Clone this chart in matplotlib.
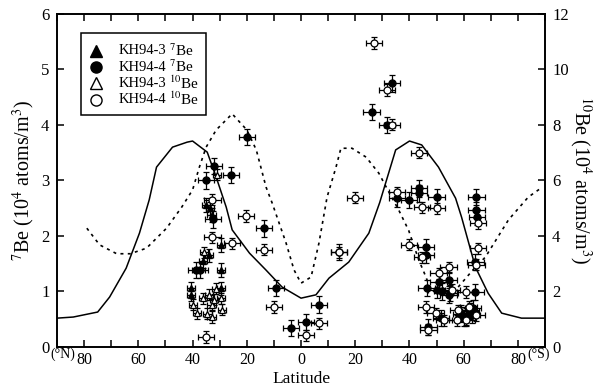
import numpy as np
import matplotlib.pyplot as plt
from matplotlib.ticker import MultipleLocator

plt.rcParams['font.family'] = ['Liberation Serif', 'DejaVu Serif']
plt.rcParams['mathtext.fontset'] = 'stix'

# ===== model curves (lat: N negative, S positive) =====
solid_lat = [-90, -84, -75, -70.6, -64.5, -59.6, -56, -53.3, -47.4, -42, -40, -34.6, -31.3,
             -27.6, -25.4, -19, -13, -7, 0, 5.5, 10.3, 17.6, 25, 29, 34.9, 40, 44.5, 50.7,
             57, 59.2, 64.3, 69, 74, 81.3, 90]
solid_val = [0.52, 0.54, 0.63, 0.9, 1.42, 2.05, 2.65, 3.24, 3.6, 3.69, 3.71, 3.51, 3.06,
             2.52, 2.11, 1.69, 1.39, 1.08, 0.88, 0.94, 1.24, 1.53, 2.05, 2.6, 3.55, 3.71, 3.64,
             3.24, 2.68, 2.34, 1.44, 0.97, 0.61, 0.52, 0.52]

dash_lat = [-79, -74.3, -68, -63, -57, -49.6, -44, -40, -37.5, -35, -31.3, -25.4, -20, -16.5,
            -12.9, -10.7, -5.5, -2.6, 0, 3.7, 6.6, 9.6, 12.9, 14.7, 18.8, 24, 28.7, 32.4, 36,
            39.7, 43.4, 46, 47.8, 52, 56, 59.2, 64.3, 68, 76.5, 83.8, 89]
dash_val = [2.14, 1.84, 1.68, 1.68, 1.78, 2.14, 2.52, 2.83, 3.24, 3.6, 3.91, 4.2, 3.91, 3.55,
            2.88, 2.6, 1.87, 1.39, 1.15, 1.26, 1.87, 2.7, 3.24, 3.58, 3.58, 3.42, 3.13, 2.79, 2.47,
            2.1, 1.57, 1.27, 1.03, 0.93, 0.97, 1.15, 1.44, 1.62, 2.29, 2.7, 2.88]

# ===== KH94-3 7Be (left axis) =====
k3_be7_lat = [-35, -33, -29.4, -29.4, -40.5, -40.5, -29.4, -34, -33.5, -36]
k3_be7_val = [2.56, 2.38, 1.84, 1.39, 1.06, 0.94, 1.06, 1.65, 2.5, 1.55]

# ===== KH94-4 7Be (left axis) =====
k4_be7_lat = [-35, -32, -25.7, -19.8, -13.6, -32.5, -38.6, -37.3, -9.2, -3.7, 1.8, 6.6, 14,
              26, 31.7, 33.5, 35.3, 39.7, 43.4, 43.4, 50, 64.7, 64.7, 65, 64.3, 46, 46,
              54.4, 46.3, 50.7, 50, 54.4, 64.3, 51.5, 47, 59, 61, 62.5, 63.5, 60, 63, 55, 52]
k4_be7_val = [3.0, 3.26, 3.1, 3.78, 2.14, 2.3, 1.39, 1.39, 1.06, 0.34, 0.45, 0.76, 1.71,
              4.23, 4.0, 4.75, 2.68, 2.65, 2.86, 2.77, 2.7, 2.7, 2.47, 2.34, 1.53, 1.8, 1.66,
              1.21, 1.06, 1.17, 1.03, 0.94, 0.99, 0.52, 0.36, 0.6, 0.55, 0.65, 0.7, 0.52, 0.58,
              0.97, 1.0]

# ===== KH94-3 10Be (right axis) =====
k3_be10_lat = [-35.7, -40, -38.5, -36, -34, -33, -33, -32, -29.4, -29, -34.5, -31.5, -31]
k3_be10_val = [3.42, 1.52, 1.22, 1.76, 1.88, 1.52, 1.08, 1.7, 1.76, 1.34, 1.2, 2.1, 6.2]

# ===== KH94-4 10Be (right axis) =====
k4_be10_lat = [-32.7, -20.2, -13.6, -32.7, -25.4, -35, -10, 6.6, 1.8, 14, 20, 26.8, 31.7,
               33.5, 43.4, 35.3, 44.5, 50, 65.4, 65.4, 64.7, 39.7, 44.5, 54.4, 50.7, 55.5,
               60.7, 46, 49.6, 52.6, 47, 58, 57.4, 61, 64.7, 61.8]
k4_be10_val = [5.3, 4.72, 3.5, 3.96, 3.74, 0.36, 1.44, 0.86, 0.43, 3.42, 5.37, 10.95, 9.26,
               8.0, 7.0, 5.58, 5.04, 5.0, 4.46, 3.56, 2.96, 3.68, 3.24, 2.88, 2.66, 2.06,
               1.98, 1.44, 1.22, 0.97, 0.62, 1.33, 0.97, 0.97, 1.15, 1.44]

fig = plt.figure(figsize=(5.97, 3.86), dpi=100)
ax = fig.add_axes([0.0955, 0.101, 0.8175, 0.863])
ax2 = ax.twinx()

ax.plot(solid_lat, solid_val, '-', color='black', lw=1.1)
ax.plot(dash_lat, dash_val, linestyle=(0, (1.8, 2.6)), color='black', lw=1.2)

eb = dict(ecolor='black', elinewidth=0.9, capsize=2, capthick=0.9, linestyle='none')
ax.errorbar(k3_be7_lat, k3_be7_val, xerr=1.5, yerr=0.12, fmt='^', ms=5,
            mfc='black', mec='black', **eb)
ax.errorbar(k4_be7_lat, k4_be7_val, xerr=3, yerr=0.15, fmt='o', ms=5,
            mfc='black', mec='black', **eb)
ax2.errorbar(k3_be10_lat, k3_be10_val, xerr=1.5, yerr=0.2, fmt='^', ms=5,
             mfc='white', mec='black', mew=0.9, **eb)
ax2.errorbar(k4_be10_lat, k4_be10_val, xerr=3, yerr=0.2, fmt='o', ms=5,
             mfc='white', mec='black', mew=0.9, **eb)

ax.set_xlim(-90, 90)
ax.set_ylim(0, 6)
ax2.set_ylim(0, 12)
ax.xaxis.set_minor_locator(MultipleLocator(10))
ax.set_xticks(np.arange(-80, 81, 20))
ax.set_xticklabels(['80', '60', '40', '20', '0', '20', '40', '60', '80'])
ax.yaxis.set_major_locator(MultipleLocator(1))
ax2.yaxis.set_major_locator(MultipleLocator(2))

for a in (ax, ax2):
    for s in a.spines.values():
        s.set_linewidth(1.2)
ax.tick_params(axis='both', which='both', direction='in', top=True, labelsize=12,
               length=5, width=1.1)
ax.tick_params(axis='x', labelsize=11.5)
ax.tick_params(axis='y', right=False, pad=5.5)
ax2.tick_params(axis='y', direction='in', labelsize=12, length=5, width=1.1, pad=5)

ax.set_xlabel('Latitude', fontsize=12.5, labelpad=2)
ax.set_ylabel('$^7$Be (10$^4$ atoms/m$^3$)', fontsize=14.5, labelpad=3)
ax2.set_ylabel('$^{10}$Be (10$^4$ atoms/m$^3$)', fontsize=14.5, rotation=270, labelpad=18)

fig.text(0.0845, 0.081, '(°N)', fontsize=10, ha='left', va='center')
fig.text(0.8827, 0.081, '(°S)', fontsize=10, ha='left', va='center')

# legend drawn by hand: marker, cruise name, isotope
lx, ly = 0.161, 0.868
rows = [('^', 'black', 'KH94-3', '$^{7}$Be'),
        ('o', 'black', 'KH94-4', '$^{7}$Be'),
        ('^', 'white', 'KH94-3', '$^{10}$Be'),
        ('o', 'white', 'KH94-4', '$^{10}$Be')]
for i, (m, fc, cruise, iso) in enumerate(rows):
    y = ly - i * 0.042
    fig.lines.append(plt.Line2D([lx], [y], marker=m, ms=8, mfc=fc, mec='black',
                                mew=1, linestyle='none', transform=fig.transFigure))
    fig.text(0.198, y, cruise, fontsize=10.5, ha='left', va='center')
    fig.text(0.283, y, iso, fontsize=11, ha='left', va='center')
box = plt.Rectangle((0.136, 0.702), 0.209, 0.212, transform=fig.transFigure,
                    fill=False, edgecolor='black', lw=1.1)
fig.patches.append(box)

fig.savefig('out.png', dpi=100)
